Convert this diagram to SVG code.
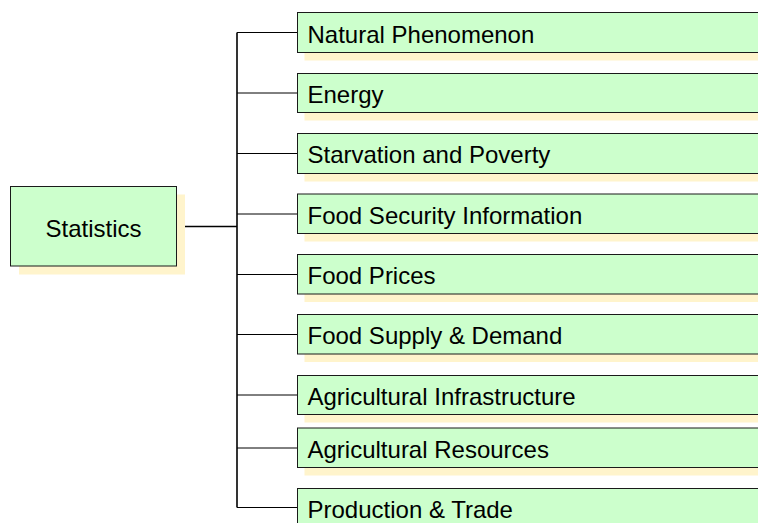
<svg xmlns="http://www.w3.org/2000/svg" width="758" height="523" viewBox="0 0 758 523">
<style>
.box{fill:#CCFFCC;stroke:#1a1a1a;stroke-width:1}
.sh{fill:#FFF4CC;stroke:none}
.t{font-family:"Liberation Sans",Arial,sans-serif;font-size:24px;fill:#000}
.c{fill:none;stroke:#000;stroke-width:1}
.m{fill:none;stroke:#000;stroke-width:1.6}
</style>
<rect width="758" height="523" fill="#fff"/>
<g id="connectors">
<path class="m" d="M177,226.5 H237"/>
<path class="m" d="M237,32.5 V507.5"/>
<path class="c" d="M237,32.5 H297 M237,93 H297 M237,153.5 H297 M237,214 H297 M237,274.5 H297 M237,334.5 H297 M237,395 H297 M237,448 H297 M237,507.5 H297"/>
</g>
<g id="statistics">
<rect class="sh" x="19" y="194.5" width="166" height="80"/>
<rect class="box" x="10.5" y="186.5" width="166" height="79.5"/>
<text class="t" x="93.5" y="236.5" text-anchor="middle">Statistics</text>
</g>
<g id="natural-phenomenon">
<rect class="sh" x="304.5" y="20.5" width="460" height="40"/>
<rect class="box" x="297.5" y="12.5" width="470" height="40"/>
<text class="t" x="307.5" y="42.5">Natural Phenomenon</text>
</g>
<g id="energy">
<rect class="sh" x="304.5" y="81.5" width="460" height="39"/>
<rect class="box" x="297.5" y="73.5" width="470" height="39"/>
<text class="t" x="307.5" y="102.5">Energy</text>
</g>
<g id="starvation">
<rect class="sh" x="304.5" y="141.5" width="460" height="40"/>
<rect class="box" x="297.5" y="133.5" width="470" height="40"/>
<text class="t" x="307.5" y="163">Starvation and Poverty</text>
</g>
<g id="food-security">
<rect class="sh" x="304.5" y="202" width="460" height="39.5"/>
<rect class="box" x="297.5" y="194" width="470" height="39.5"/>
<text class="t" x="307.5" y="223.5">Food Security Information</text>
</g>
<g id="food-prices">
<rect class="sh" x="304.5" y="262.5" width="460" height="39.5"/>
<rect class="box" x="297.5" y="254.5" width="470" height="39.5"/>
<text class="t" x="307.5" y="284">Food Prices</text>
</g>
<g id="food-supply">
<rect class="sh" x="304.5" y="322.5" width="460" height="39.5"/>
<rect class="box" x="297.5" y="314.5" width="470" height="39.5"/>
<text class="t" x="307.5" y="344">Food Supply &amp; Demand</text>
</g>
<g id="agri-infrastructure">
<rect class="sh" x="304.5" y="383.5" width="460" height="39"/>
<rect class="box" x="297.5" y="375.5" width="470" height="39"/>
<text class="t" x="307.5" y="404.5">Agricultural Infrastructure</text>
</g>
<g id="agri-resources">
<rect class="sh" x="304.5" y="436" width="460" height="39.5"/>
<rect class="box" x="297.5" y="428" width="470" height="39.5"/>
<text class="t" x="307.5" y="457.5">Agricultural Resources</text>
</g>
<g id="production-trade">
<rect class="sh" x="304.5" y="496.5" width="460" height="39"/>
<rect class="box" x="297.5" y="488.5" width="470" height="39"/>
<text class="t" x="307.5" y="518">Production &amp; Trade</text>
</g>
</svg>
